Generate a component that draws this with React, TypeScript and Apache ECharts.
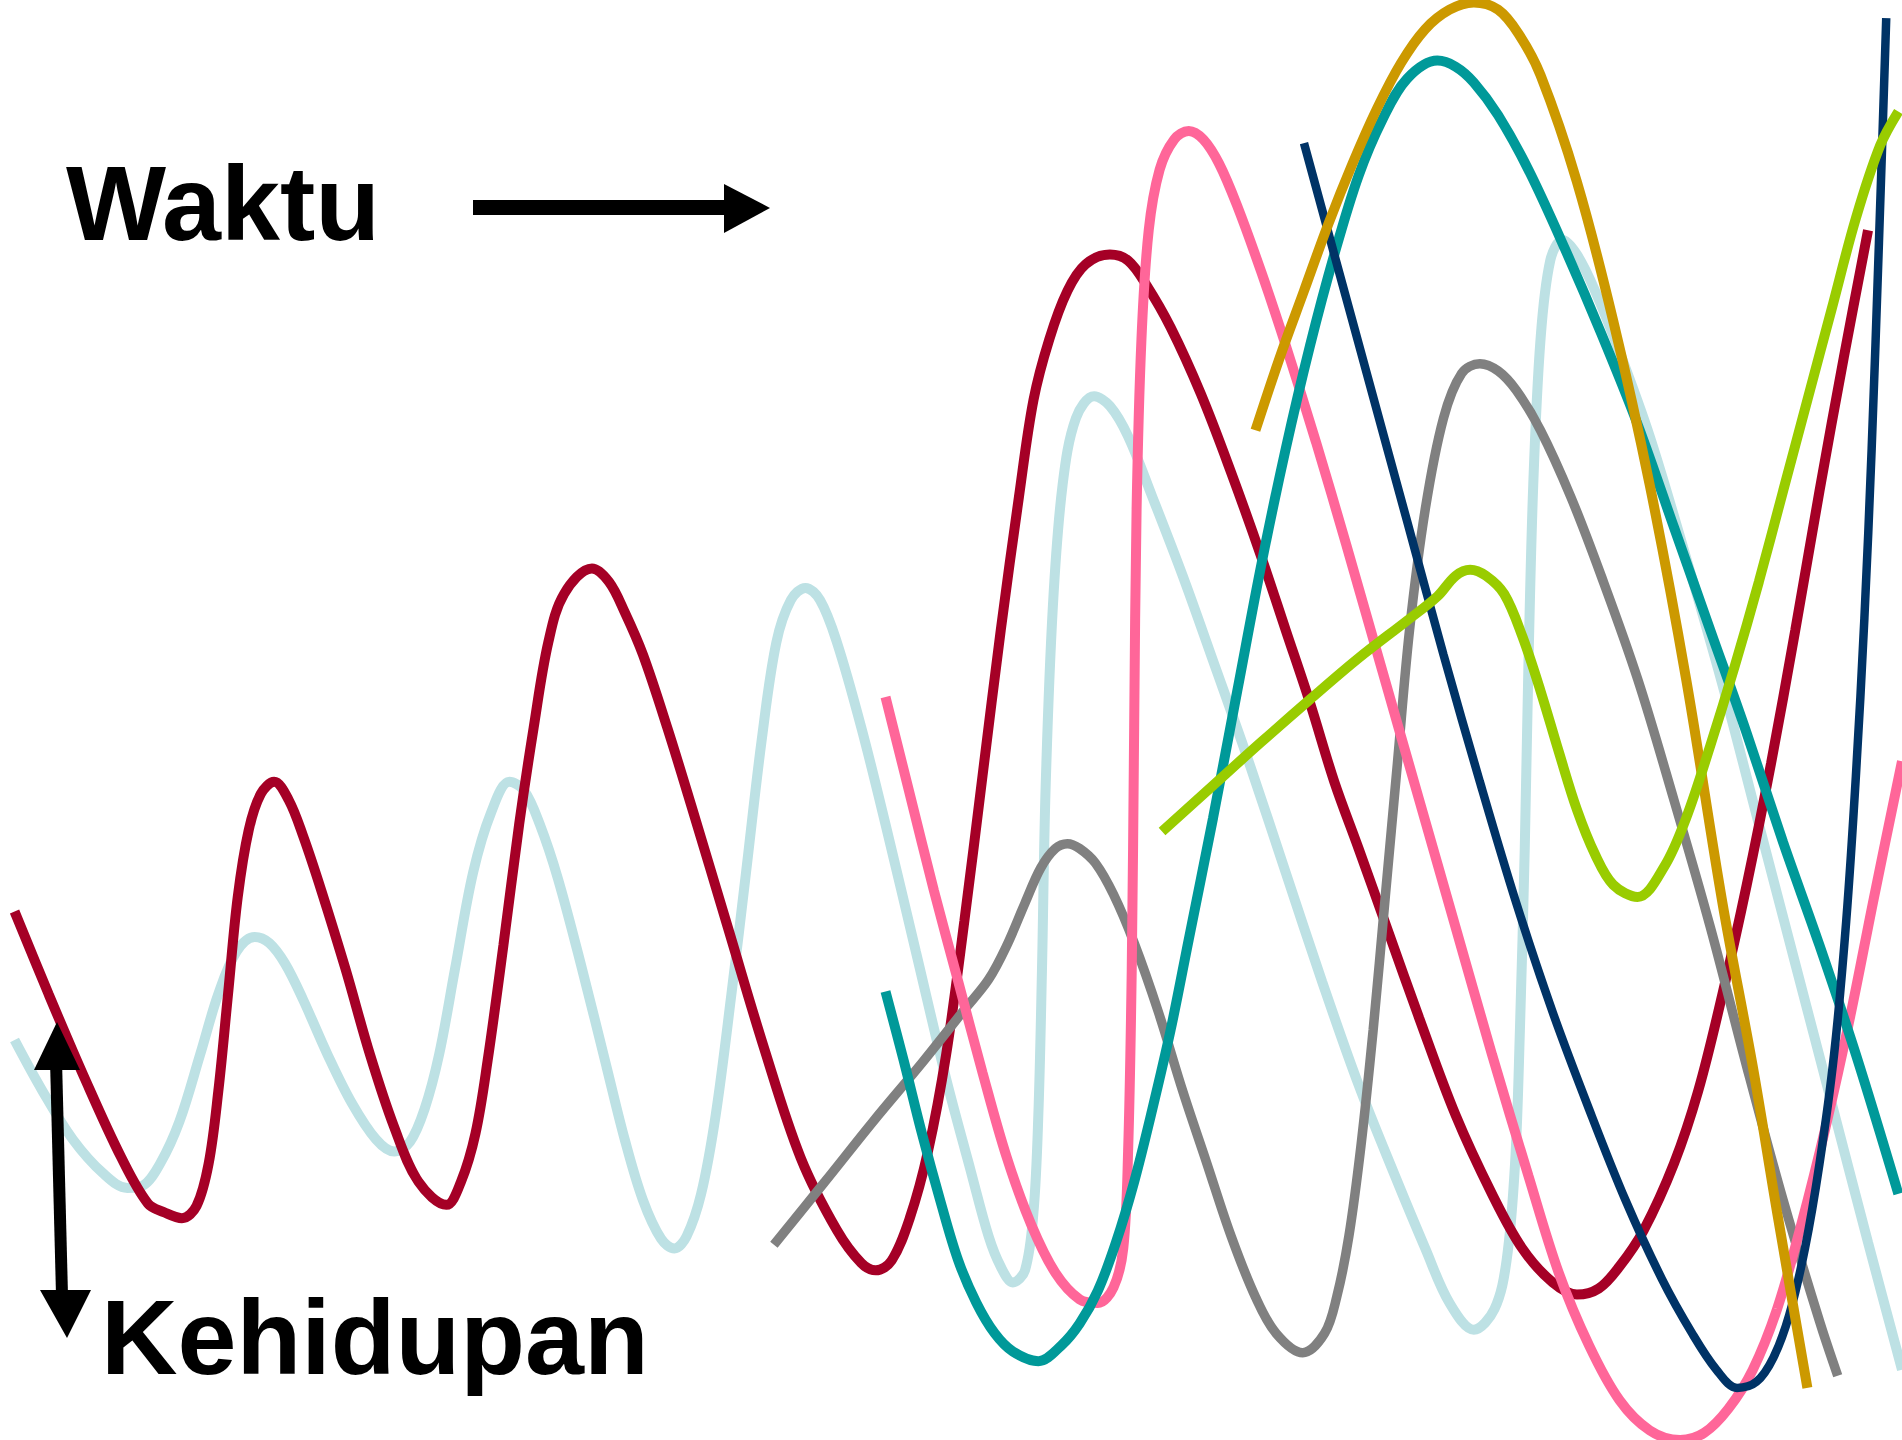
import React, { useEffect, useRef } from "react";
import * as echarts from "echarts";

// Curves, in a 1568 x 1188 reading space (x right, y down)
const cyanCurve = [[12,858],[35,900],[60,940],[85,968],[105,980],[118,978],[132,960],[148,925],[165,870],[180,820],[195,785],[210,773],[222,778],[235,795],[250,825],[270,870],[290,910],[310,940],[325,950],[338,942],[350,915],[362,870],[375,800],[390,720],[405,670],[420,645],[432,652],[445,680],[460,725],[480,800],[500,880],[515,940],[530,990],[545,1022],[556,1030],[566,1020],[578,985],[590,920],[603,820],[615,720],[628,610],[640,530],[652,495],[664,485],[676,495],[690,530],[710,600],[730,680],[755,785],[780,890],[800,965],[815,1020],[825,1045],[835,1058],[845,1048],[852,1000],[856,920],[859,800],[862,650],[868,500],[876,400],[887,345],[902,327],[915,335],[930,360],[950,410],[975,475],[1000,545],[1030,630],[1060,720],[1090,810],[1120,895],[1150,970],[1175,1030],[1195,1075],[1215,1097],[1232,1080],[1242,1040],[1249,960],[1253,850],[1257,700],[1260,550],[1264,400],[1270,280],[1278,215],[1288,198],[1300,210],[1315,240],[1335,290],[1360,360],[1390,460],[1420,565],[1450,680],[1480,795],[1510,910],[1540,1025],[1568,1130]];

const redCurve = [[12,752],[40,820],[70,890],[100,955],[122,993],[135,1000],[150,1005],[162,995],[172,960],[180,900],[188,820],[196,740],[205,685],[215,655],[226,645],[238,660],[250,690],[265,735],[285,800],[305,870],[325,930],[345,975],[368,994],[380,975],[392,935],[402,875],[415,780],[428,680],[440,600],[452,530],[465,490],[488,469],[502,480],[515,505],[530,540],[550,600],[570,665],[600,765],[630,865],[660,955],[690,1015],[710,1042],[722,1048],[735,1040],[750,1005],[765,950],[780,870],[795,760],[810,640],[825,520],[840,410],[852,330],[865,280],[880,240],[895,218],[915,210],[930,215],[945,235],[965,270],[990,325],[1015,390],[1040,460],[1060,520],[1080,580],[1100,645],[1120,700],[1145,770],[1170,840],[1200,920],[1230,985],[1255,1030],[1280,1058],[1300,1068],[1318,1063],[1335,1045],[1355,1015],[1380,960],[1400,900],[1420,820],[1440,730],[1460,630],[1480,520],[1500,405],[1520,295],[1540,190]];

const grayCurve = [[638,1027],[680,975],[720,925],[760,877],[795,833],[815,808],[830,780],[845,745],[858,716],[870,700],[880,696],[890,700],[903,712],[918,738],[935,778],[955,835],[975,900],[995,960],[1015,1020],[1035,1070],[1052,1100],[1074,1116],[1092,1100],[1102,1070],[1112,1020],[1122,945],[1132,850],[1142,740],[1152,630],[1162,520],[1175,420],[1190,345],[1205,308],[1220,300],[1235,306],[1250,322],[1270,355],[1295,410],[1320,475],[1350,560],[1380,660],[1410,765],[1440,880],[1470,990],[1500,1090],[1515,1135]];

const pinkCurve = [[730,575],[750,655],[770,735],[790,810],[810,885],[830,955],[850,1010],[870,1050],[890,1072],[905,1075],[918,1062],[926,1030],[930,950],[933,800],[935,600],[937,420],[941,280],[947,190],[956,140],[968,115],[980,108],[992,115],[1005,135],[1020,170],[1040,225],[1060,285],[1085,365],[1110,450],[1140,555],[1170,660],[1200,765],[1230,870],[1260,970],[1285,1050],[1310,1110],[1335,1155],[1360,1180],[1385,1188],[1405,1182],[1425,1162],[1445,1130],[1465,1080],[1485,1010],[1505,930],[1525,840],[1545,740],[1568,628]];

const tealCurve = [[730,818],[745,875],[760,935],[775,990],[790,1040],[805,1075],[820,1100],[835,1115],[856,1123],[875,1110],[890,1092],[905,1065],[920,1025],[935,975],[950,915],[965,850],[980,775],[1000,675],[1020,570],[1040,465],[1060,370],[1080,285],[1100,210],[1120,145],[1140,98],[1160,65],[1185,50],[1200,55],[1215,68],[1235,95],[1260,140],[1290,205],[1320,275],[1350,350],[1380,435],[1410,520],[1440,605],[1470,695],[1500,780],[1530,870],[1565,985]];

const navyCurve = [[1075,118],[1100,210],[1130,320],[1160,430],[1190,540],[1220,645],[1250,745],[1280,835],[1310,915],[1340,990],[1370,1055],[1395,1100],[1415,1130],[1432,1145],[1448,1140],[1462,1120],[1475,1085],[1488,1030],[1500,960],[1512,870],[1522,760],[1530,640],[1537,510],[1543,370],[1549,200],[1555,15]];

const goldCurve = [[1035,355],[1055,295],[1075,240],[1095,185],[1115,135],[1135,90],[1155,52],[1175,24],[1195,8],[1215,2],[1235,8],[1252,28],[1270,62],[1300,150],[1330,265],[1360,400],[1390,560],[1420,745],[1445,880],[1465,1000],[1490,1145]];

const limeCurve = [[958,686],[1000,648],[1040,612],[1080,577],[1120,543],[1160,512],[1185,492],[1200,475],[1212,470],[1225,475],[1240,490],[1255,525],[1270,570],[1285,620],[1300,668],[1315,705],[1330,730],[1350,740],[1372,715],[1390,675],[1410,615],[1430,550],[1450,480],[1470,405],[1490,330],[1510,255],[1530,180],[1550,120],[1565,92]];

const curveNames = ["cyan", "red", "gray", "pink", "teal", "navy", "gold", "lime"];
const curveData = [cyanCurve, redCurve, grayCurve, pinkCurve, tealCurve, navyCurve, goldCurve, limeCurve];
const curveColors = ["#BDE1E4", "#A50026", "#808080", "#FF6699", "#009999", "#003366", "#CC9900", "#99CC00"];
const curveWidths = [10, 10, 9.5, 10, 10, 8.5, 10, 10];

const titleTime = "Waktu";
const titleLife = "Kehidupan";

export default function App() {
  const ref = useRef<HTMLDivElement>(null);
  useEffect(() => {
    if (!ref.current) return;
    const chart = echarts.init(ref.current, undefined, { renderer: "svg" });
    const series = curveData.map((d, i) => ({
      name: curveNames[i],
      type: "line",
      data: d,
      showSymbol: false,
      smooth: 0.35,
      clip: false,
      silent: true,
      lineStyle: { color: curveColors[i], width: curveWidths[i], cap: "butt" },
      z: 2 + i,
    }));
    chart.setOption({
      animation: false,
      backgroundColor: "#ffffff",
      grid: { left: 0, right: 0, top: 0, bottom: 0 },
      xAxis: { type: "value", min: 0, max: 1568, show: false },
      yAxis: { type: "value", min: 0, max: 1188, inverse: true, show: false },
      series,
      graphic: [
        {
          type: "text",
          x: 66,
          y: 203,
          scaleX: 1.0,
          z: 100,
          style: {
            text: titleTime,
            fontFamily: "Liberation Sans, Arial, sans-serif",
            fontWeight: "bold",
            fontSize: 106,
            fill: "#000",
            align: "left",
            verticalAlign: "middle",
          },
        },
        {
          type: "text",
          x: 101,
          y: 1337,
          scaleX: 1.0,
          z: 100,
          style: {
            text: titleLife,
            fontFamily: "Liberation Sans, Arial, sans-serif",
            fontWeight: "bold",
            fontSize: 106,
            fill: "#000",
            align: "left",
            verticalAlign: "middle",
          },
        },
        { type: "rect", z: 100, shape: { x: 473, y: 200, width: 253, height: 15 }, style: { fill: "#000" } },
        { type: "polygon", z: 100, shape: { points: [[724, 184], [770, 208], [724, 233]] }, style: { fill: "#000" } },
        { type: "line", z: 100, shape: { x1: 56, y1: 1060, x2: 62, y2: 1295 }, style: { stroke: "#000", lineWidth: 12 } },
        { type: "polygon", z: 100, shape: { points: [[57, 1022], [34, 1070], [80, 1070]] }, style: { fill: "#000" } },
        { type: "polygon", z: 100, shape: { points: [[40, 1290], [91, 1290], [67, 1338]] }, style: { fill: "#000" } },
      ],
    });
    return () => chart.dispose();
  }, []);
  return (
    <div
      ref={ref}
      style={{ position: "absolute", left: 0, top: 0, width: 1902, height: 1440, background: "#fff" }}
    />
  );
}
